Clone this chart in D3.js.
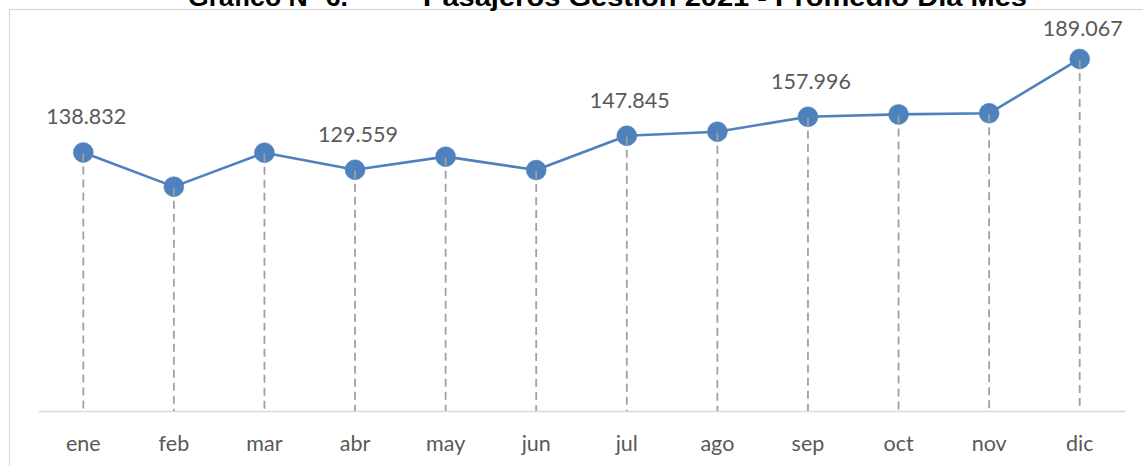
<!DOCTYPE html>
<html>
<head>
<meta charset="utf-8">
<script src="https://cdn.jsdelivr.net/npm/d3@7"></script>
<style>
  html, body { margin: 0; padding: 0; background: #fff; overflow: hidden; }
  svg { display: block; }
</style>
</head>
<body>
<svg id="chart" width="1143" height="466"></svg>
<script>
const months = ["ene", "feb", "mar", "abr", "may", "jun", "jul", "ago", "sep", "oct", "nov", "dic"];
const values = [138.832, 120.5, 138.7, 129.559, 136.6, 129.4, 147.845, 150.0, 157.996, 159.3, 159.9, 189.067];
const labels = ["138.832", null, null, "129.559", null, null, "147.845", null, "157.996", null, null, "189.067"];
const titleParts = ["Gráfico N° 6.", "Pasajeros Gestión 2021 - Promedio Día Mes"];
const yDomain = [0, 200];

const W = 1143, H = 466;
const svg = d3.select("#chart");

const x = d3.scaleBand().domain(months).range([38, 1125]).padding(0);
const y = d3.scaleLinear().domain(yDomain).range([411, 38.6]);
const cx = d => x(d) + x.bandwidth() / 2;

// chart frame (partially visible)
svg.append("rect")
  .attr("x", 9.5).attr("y", 9.5)
  .attr("width", W + 20).attr("height", H + 20)
  .attr("fill", "none").attr("stroke", "#d9d9d9").attr("stroke-width", 1.2);

// title (clipped at top, as in the reference)
const title = svg.append("text")
  .attr("y", 5.5)
  .attr("font-family", "'Liberation Sans', Arial, sans-serif")
  .attr("font-weight", "bold")
  .attr("font-size", 26)
  .attr("fill", "#000");
title.append("tspan").attr("x", 188).attr("textLength", 160).attr("lengthAdjust", "spacingAndGlyphs").text(titleParts[0]);
title.append("tspan").attr("x", 423).attr("textLength", 604).attr("lengthAdjust", "spacingAndGlyphs").text(titleParts[1]);

// x axis
const xAxis = d3.axisBottom(x).tickSize(0).tickPadding(0);
const gx = svg.append("g").attr("transform", `translate(0,${y(0)})`).call(xAxis);
gx.select(".domain").attr("stroke", "#d9d9d9").attr("stroke-width", 1.5);
gx.selectAll(".tick text")
  .attr("dy", null)
  .attr("y", 40)
  .attr("font-family", "Lato, 'Open Sans', sans-serif")
  .attr("font-size", 21.5)
  .attr("fill", "#595959");

const data = months.map((m, i) => ({ m, v: values[i], label: labels[i] }));

// line
svg.append("path")
  .datum(data)
  .attr("fill", "none")
  .attr("stroke", "#4f81bd")
  .attr("stroke-width", 2.6)
  .attr("stroke-linejoin", "round")
  .attr("d", d3.line().x(d => cx(d.m)).y(d => y(d.v)));

// markers
svg.append("g").selectAll("circle")
  .data(data).join("circle")
  .attr("cx", d => cx(d.m))
  .attr("cy", d => y(d.v))
  .attr("r", 10)
  .attr("fill", "#4f81bd")
  .attr("stroke", "#4f81bd")
  .attr("stroke-width", 0.5);

// drop lines (drawn above markers)
svg.append("g").selectAll("line")
  .data(data).join("line")
  .attr("x1", d => cx(d.m)).attr("x2", d => cx(d.m))
  .attr("y1", d => y(d.v) + 1).attr("y2", y(0))
  .attr("stroke", "#a0a0a0")
  .attr("stroke-width", 1.8)
  .attr("stroke-dasharray", "8,5");

// data labels (kept inside the chart area)
svg.append("g").selectAll("text")
  .data(data.filter(d => d.label)).join("text")
  .attr("x", d => cx(d.m) + 3)
  .attr("y", d => Math.max(y(d.v) - 28, 36))
  .attr("text-anchor", "middle")
  .attr("font-family", "Lato, 'Open Sans', sans-serif")
  .attr("font-size", 21.5)
  .attr("fill", "#595959")
  .text(d => d.label);
</script>
</body>
</html>
